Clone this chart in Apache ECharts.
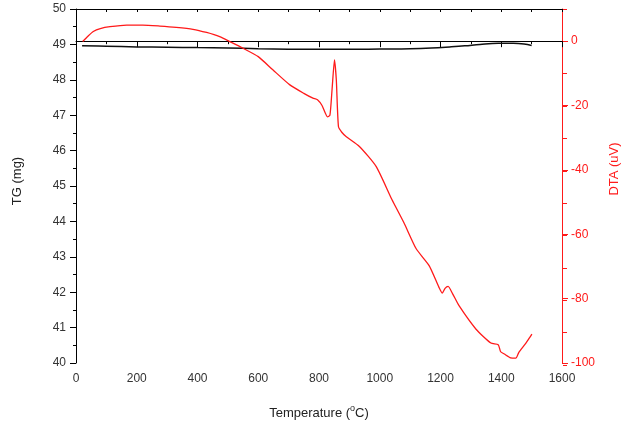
<!DOCTYPE html>
<html>
<head>
<meta charset="utf-8">
<script src="https://cdn.jsdelivr.net/npm/echarts@6/dist/echarts.min.js"></script>
<style>html,body{margin:0;padding:0;background:#fff}#c{width:629px;height:427px}</style>
</head>
<body>
<div id="c"></div>
<script>
// TG curve (mg) vs temperature (°C)
var tgTemp = [20, 100, 200, 300, 400, 500, 600, 700, 800, 900, 1000, 1100, 1170, 1230, 1280, 1330, 1390, 1440, 1475, 1500];
var tgMass = [48.96, 48.95, 48.93, 48.92, 48.91, 48.9, 48.88, 48.865, 48.86, 48.86, 48.87, 48.88, 48.9, 48.93, 48.96, 49.0, 49.03, 49.03, 49.01, 48.97];
// DTA curve (uV) vs temperature (°C)
var dtaTemp = [22, 40, 57, 80, 112, 167, 220, 276, 330, 385, 430, 473, 510, 550, 600, 648, 703, 750, 780, 795, 810, 828, 836, 843, 851, 857, 864, 875, 889, 933, 988, 1040, 1080, 1120, 1163, 1195, 1206, 1215, 1225, 1240, 1261, 1317, 1366, 1390, 1398, 1410, 1431, 1448, 1458, 1480, 1501];
var dtaVal = [-0.1, 1.6, 3.0, 3.9, 4.5, 5.0, 5.0, 4.7, 4.3, 3.7, 2.7, 1.4, -0.3, -2.2, -4.8, -8.9, -13.5, -16.2, -17.7, -18.2, -20, -23.5, -23, -15, -5.8, -12, -26.5, -28.3, -29.6, -32.7, -38.9, -49.2, -56.5, -64.5, -69.8, -76.5, -78.3, -76.8, -76.2, -78.5, -82.2, -89.5, -93.8, -94.3, -96.5, -97.2, -98.4, -98.5, -96.7, -94, -91];
// axis settings
var xMin = 0, xMax = 1600, xStep = 200;
var tgMin = 40, tgMax = 50, tgStep = 1;
var dtaMin = -100, dtaMax = 10, dtaStep = 20, dtaMinor = 10;

var FONT = 'Liberation Sans, Arial, sans-serif';
var labelColor = '#333';
var red = '#ff1a1a';
var gridBox = { left: 76, right: 66, top: 9, bottom: 62, containLabel: false };

function zip(a, b) { return a.map(function (v, i) { return [v, b[i]]; }); }

var chart = echarts.init(document.getElementById('c'));
chart.setOption({
  animation: false,
  backgroundColor: '#fff',
  grid: [Object.assign({}, gridBox), Object.assign({}, gridBox)],
  xAxis: [{
    gridIndex: 0, type: 'value', min: xMin, max: xMax, interval: xStep, position: 'bottom',
    name: '{n|Temperature (}{s|o}{n|C)}', nameLocation: 'middle', nameGap: 42,
    nameTextStyle: { fontFamily: FONT, fontSize: 13, color: '#222',
      rich: {
        n: { fontFamily: FONT, fontSize: 13, color: '#222', lineHeight: 16 },
        s: { fontFamily: FONT, fontSize: 9, color: '#222', lineHeight: 16, padding: [0, 0, 9, 0] }
      } },
    axisLine: { lineStyle: { color: '#000', width: 1 } },
    axisTick: { show: true, inside: false, length: 6, lineStyle: { color: '#000' } },
    minorTick: { show: true, splitNumber: 2, length: 3, lineStyle: { color: '#000' } },
    axisLabel: { fontFamily: FONT, fontSize: 12, color: labelColor, margin: 10,
      formatter: function (v) { return String(v); } },
    splitLine: { show: false }
  }, {
    gridIndex: 0, type: 'value', min: xMin, max: xMax, interval: 100, position: 'top',
    axisLine: { onZero: false, lineStyle: { color: '#000', width: 1 } },
    axisTick: { show: true, inside: true, length: 3, lineStyle: { color: '#000' } },
    axisLabel: { show: false }, splitLine: { show: false }
  }, {
    gridIndex: 1, type: 'value', min: xMin, max: xMax, show: false
  }],
  yAxis: [{
    gridIndex: 0, type: 'value', min: tgMin, max: tgMax, interval: tgStep, position: 'left',
    name: 'TG (mg)', nameLocation: 'middle', nameGap: 52, nameRotate: 90,
    nameTextStyle: { fontFamily: FONT, fontSize: 13, color: '#222', padding: [0, 0, 0, 10] },
    axisLine: { show: true, onZero: false, lineStyle: { color: '#000', width: 1 } },
    axisTick: { show: true, inside: false, length: 6, lineStyle: { color: '#000' } },
    minorTick: { show: true, splitNumber: 2, length: 3, lineStyle: { color: '#000' } },
    axisLabel: { fontFamily: FONT, fontSize: 12, color: labelColor, margin: 10 },
    splitLine: { show: false }
  }, {
    gridIndex: 0, type: 'value', min: dtaMin, max: dtaMax, interval: dtaStep, position: 'right',
    name: 'DTA (uV)', nameLocation: 'middle', nameGap: 46, nameRotate: 90,
    nameTextStyle: { fontFamily: FONT, fontSize: 13, color: red, padding: [0, 0, 0, 34] },
    axisLine: { show: true, onZero: false, lineStyle: { color: red, width: 1 } },
    axisTick: { show: true, inside: false, length: 6, lineStyle: { color: red } },
    axisLabel: { fontFamily: FONT, fontSize: 12, color: red, margin: 9, showMaxLabel: false,
      formatter: function (v) { return v > 0 ? '' : String(v); } },
    splitLine: { show: false }
  }, {
    gridIndex: 1, type: 'value', min: dtaMin, max: dtaMax, interval: dtaMinor, position: 'right',
    show: true,
    axisLine: { show: false, onZero: false },
    axisTick: { show: true, inside: false, length: 4, lineStyle: { color: red } },
    axisLabel: { show: false }, splitLine: { show: false }
  }],
  series: [{
    type: 'line', xAxisIndex: 0, yAxisIndex: 0, data: zip(tgTemp, tgMass),
    showSymbol: false, smooth: 0.4, lineStyle: { color: '#111', width: 1.5 }, z: 3
  }, {
    type: 'line', xAxisIndex: 0, yAxisIndex: 1, data: zip(dtaTemp, dtaVal),
    showSymbol: false, smooth: 0.2, lineStyle: { color: red, width: 1.3 }, z: 4
  }, {
    type: 'line', xAxisIndex: 2, yAxisIndex: 2, data: [], showSymbol: false, silent: true
  }]
});
</script>
</body>
</html>
